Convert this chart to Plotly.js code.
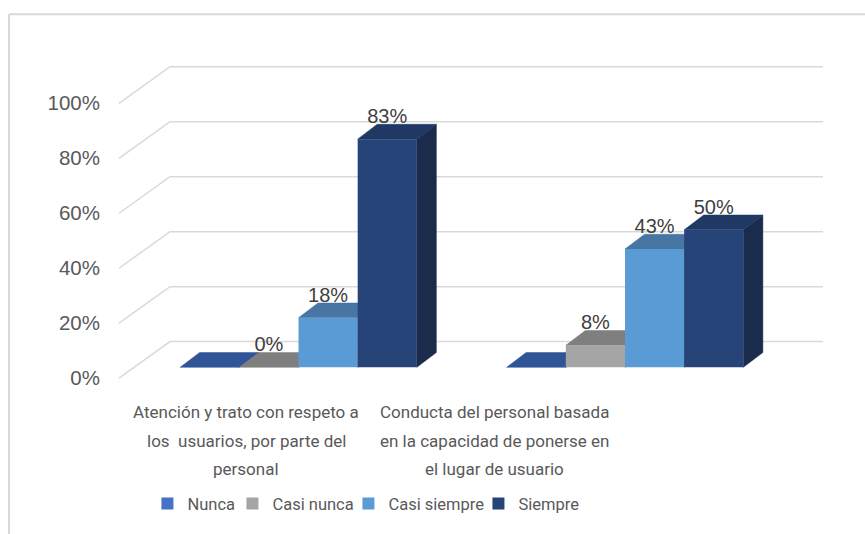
<!DOCTYPE html>
<html><head><meta charset="utf-8">
<script src="https://cdn.plot.ly/plotly-3.0.1.min.js"></script>
<style>html,body{margin:0;padding:0;background:#fff}#chart{width:865px;height:534px}</style>
</head><body><div id="chart"></div>
<script>
// ---- data ----
const categories = ['Atención y trato con respeto a los  usuarios, por parte del personal',
                    'Conducta del personal basada en la capacidad de ponerse en el lugar de usuario'];
const categoryLines = [['Atención y trato con respeto a', 'los\u00a0 usuarios, por parte del', 'personal'],
                       ['Conducta del personal basada', 'en la capacidad de ponerse en', 'el lugar de usuario']];
const seriesNames = ['Nunca', 'Casi nunca', 'Casi siempre', 'Siempre'];
const nunca = [0, 0];
const casiNunca = [0, 0.08];
const casiSiempre = [0.18, 0.43];
const siempre = [0.83, 0.50];
const showValueLabel = [false, true, true, true];
const yTicks = [0, 0.2, 0.4, 0.6, 0.8, 1.0];

// ---- styles ----
const frontColors = ['#4472C4', '#A5A5A5', '#5B9BD5', '#264478'];
const topColors   = ['#2F5597', '#7F7F7F', '#4676A1', '#1F3864'];
const sideColors  = ['#284B86', '#6B6B6B', '#3B6690', '#1A2B4C'];
const legendWidths = [40, 71, 85, 60];
const NUM_FONT = '"Liberation Sans", Arial, sans-serif';
const TEXT_FONT = 'Roboto, "Liberation Sans", sans-serif';
const GRID = '#D9D9D9';

// ---- geometry (axis units) ----
const xRange = [-0.6049, 1.6891];
const yRange = [-0.0647, 1.2302];
const barGap = 0.275;
const barW = (1 - barGap) / 4;
const barPlane = 0.0396;   // rise of the bar row above the front wall
const backPlane = 0.1331;  // rise of the back wall
const depthX = 0.0597, depthY = 0.054; // bar depth projection
const labelNudge = -0.0144;
const wallX0 = -0.5498, wallX1 = -0.3936, wallX2 = 1.6064;
const catLabelX = [-0.1608, 0.5988];
const catLineY = [-0.0444, -0.125, -0.2056];

const seriesValues = [nunca, casiNunca, casiSiempre, siempre];
const traces = [];

// side & top faces (main subplot, underneath the front faces)
seriesValues.forEach((vals, k) => {
  vals.forEach((v, i) => {
    const x0 = i - 2 * barW + k * barW, x1 = x0 + barW;
    const b = barPlane, t = barPlane + v;
    traces.push({type: 'scatter', mode: 'lines', fill: 'toself', hoverinfo: 'skip', showlegend: false,
      x: [x1, x1, x1 + depthX, x1 + depthX, x1], y: [b, t, t + depthY, b + depthY, b],
      line: {width: 0.5, color: sideColors[k]}, fillcolor: sideColors[k]});
    traces.push({type: 'scatter', mode: 'lines', fill: 'toself', hoverinfo: 'skip', showlegend: false,
      x: [x0, x1, x1 + depthX, x0 + depthX, x0], y: [t, t, t + depthY, t + depthY, t],
      line: {width: 0.5, color: topColors[k]}, fillcolor: topColors[k]});
  });
});

// value labels
seriesValues.forEach((vals, k) => {
  if (!showValueLabel[k]) return;
  traces.push({type: 'scatter', mode: 'text', hoverinfo: 'skip', showlegend: false,
    x: vals.map((v, i) => i - 2 * barW + (k + 0.5) * barW),
    y: vals.map(v => barPlane + v + depthY + labelNudge),
    text: vals.map(v => Math.round(v * 100) + '%'),
    textposition: 'top center',
    textfont: {family: NUM_FONT, size: 20, color: '#404040'}});
});

// front faces (overlay subplot, drawn on top)
seriesValues.forEach((vals, k) => {
  traces.push({type: 'bar', name: seriesNames[k], x: categories, y: vals, base: barPlane,
    xaxis: 'x2', yaxis: 'y2', legendwidth: legendWidths[k],
    marker: {color: frontColors[k], line: {width: 0}},
    hovertemplate: '%{x}<br>' + seriesNames[k] + ': %{y:.0%}<extra></extra>'});
});

// wall gridlines
const shapes = yTicks.map(t => ({type: 'path', xref: 'x', yref: 'y', layer: 'below',
  path: `M${wallX0},${t} L${wallX1},${t + backPlane} L${wallX2},${t + backPlane}`,
  line: {color: GRID, width: 1.5}}));
// chart frame
shapes.push({type: 'line', xref: 'paper', yref: 'paper', x0: -0.1228, x1: 1.03, y0: 1.0722, y1: 1.0722,
  line: {color: GRID, width: 2}});
shapes.push({type: 'line', xref: 'paper', yref: 'paper', x0: -0.1228, x1: -0.1228, y0: 1.0722, y1: -0.40,
  line: {color: GRID, width: 2}});

const annotations = [];
categoryLines.forEach((lines, i) => lines.forEach((ln, j) => annotations.push({
  text: ln, xref: 'x', yref: 'paper', x: catLabelX[i], y: catLineY[j],
  xanchor: 'center', yanchor: 'middle', align: 'center', showarrow: false,
  font: {family: TEXT_FONT, size: 17, color: '#595959'}})));

const layout = {
  width: 865, height: 534,
  margin: {l: 101, r: 15, t: 40, b: 134},
  paper_bgcolor: '#ffffff', plot_bgcolor: '#ffffff',
  barmode: 'group', bargap: barGap, bargroupgap: 0,
  xaxis: {range: xRange, visible: false, fixedrange: true},
  yaxis: {range: yRange, tickvals: yTicks, tickformat: '.0%', showgrid: false, zeroline: false,
          showline: false, ticks: '', fixedrange: true,
          tickfont: {family: NUM_FONT, size: 20.5, color: '#595959'}},
  xaxis2: {type: 'category', overlaying: 'x', range: xRange, visible: false, fixedrange: true},
  yaxis2: {overlaying: 'y', range: yRange, visible: false, fixedrange: true},
  showlegend: true,
  legend: {orientation: 'h', x: 0.062, xanchor: 'left', y: -0.303, yanchor: 'middle',
           font: {family: TEXT_FONT, size: 16.5, color: '#595959'}, bgcolor: 'rgba(0,0,0,0)'},
  shapes: shapes, annotations: annotations
};
Plotly.newPlot('chart', traces, layout, {displayModeBar: false, responsive: false});
</script></body></html>
